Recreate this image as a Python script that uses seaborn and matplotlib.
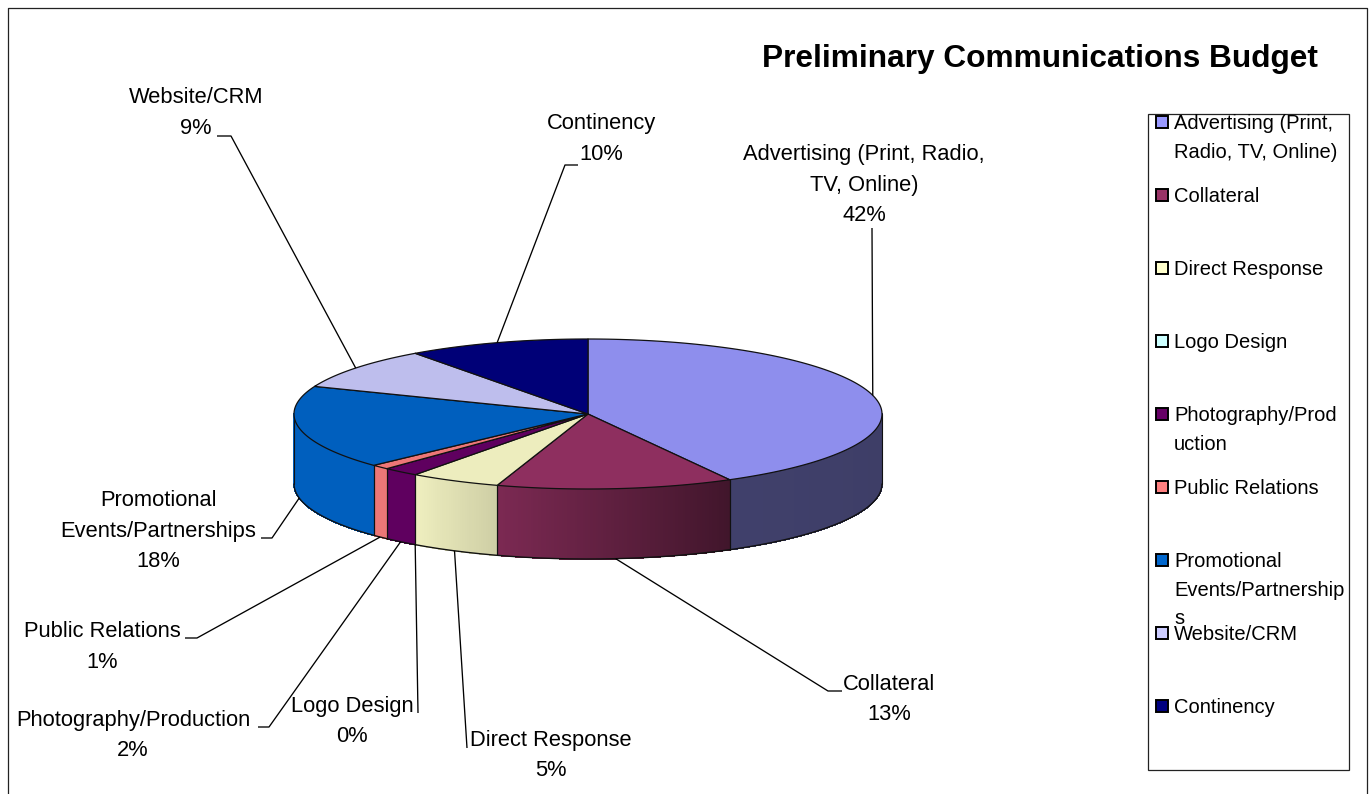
import numpy as np
import matplotlib
matplotlib.use("Agg")
import matplotlib.pyplot as plt
from matplotlib.patches import Polygon, Rectangle
import seaborn as sns

# Budget shares, in percent
categories = ["Advertising (Print, Radio, TV, Online)", "Collateral", "Direct Response",
              "Logo Design", "Photography/Production", "Public Relations",
              "Promotional Events/Partnerships", "Website/CRM", "Continency"]
shares = [42, 13, 5, 0, 2, 1, 18, 9, 10]
base_colors = ["#9999FF", "#993366", "#FFFFCC", "#CCFFFF", "#660066",
               "#FF8080", "#0066CC", "#CCCCFF", "#000080"]

callout_lines = [["Advertising (Print, Radio,", "TV, Online)"], ["Collateral"], ["Direct Response"],
                 ["Logo Design"], ["Photography/Production"], ["Public Relations"],
                 ["Promotional", "Events/Partnerships"], ["Website/CRM"], ["Continency"]]
legend_lines = [["Advertising (Print,", "Radio, TV, Online)"], ["Collateral"], ["Direct Response"],
                ["Logo Design"], ["Photography/Prod", "uction"], ["Public Relations"],
                ["Promotional", "Events/Partnership", "s"], ["Website/CRM"], ["Continency"]]

# Pie geometry (pixels)
CX, CY, RX, RY, DEPTH = 588, 414, 294, 75, 70

# Label centres and leader routes for each slice
label_xy = [(864, 153), (889, 683), (551, 739), (352, 705), (133, 719),
            (102, 630), (158, 499), (196, 96), (601, 122)]
leader_routes = [[(872, 228)], [(828, 691), (842, 691)], [(467, 748)], [(418, 713)],
                 [(269, 727), (258, 727)], [(197, 638), (185, 638)],
                 [(272, 538), (261, 538)], [(231, 136), (217, 136)], [(565, 165), (578, 165)]]

sns.set_theme(style="white")
plt.rcParams["font.family"] = ["Liberation Sans", "DejaVu Sans"]

LABEL_FS = 15.75
LEGEND_FS = 14.5
TITLE_FS = 22.8

fig = plt.figure(figsize=(13.72, 7.94), dpi=100)
ax = fig.add_axes([0, 0, 1, 1])
ax.set_xlim(0, 1372)
ax.set_ylim(794, 0)
ax.axis("off")


def rim(t_deg, drop=0.0):
    t = np.radians(t_deg)
    return CX + RX * np.cos(t), CY + RY * np.sin(t) + drop


def side_shade(t_deg):
    return np.interp(t_deg, [0, 61, 107, 125, 180], [0.40, 0.42, 0.80, 0.93, 0.93])


# Outer chart frame
ax.plot([8, 8, 1367, 1367], [800, 8, 8, 800], color="#222222", lw=0.9, zorder=1)

# Slice angles run clockwise from twelve o'clock
fractions = np.asarray(shares, dtype=float) / sum(shares)
edges = -90 + 360 * np.concatenate([[0], np.cumsum(fractions)])

# Side wall, shaded strip by strip
for i, col in enumerate(base_colors):
    lo, hi = max(edges[i], 0), min(edges[i + 1], 180)
    if hi <= lo:
        continue
    rgb = np.array(matplotlib.colors.to_rgb(col))
    steps = np.linspace(lo, hi, max(int(hi - lo) * 2, 2) + 1)
    for a, b in zip(steps[:-1], steps[1:]):
        xa, ya = rim(a)
        xb, yb = rim(b)
        c = rgb * side_shade((a + b) / 2)
        ax.add_patch(Polygon([(xa, ya), (xb, yb), (xb, yb + DEPTH), (xa, ya + DEPTH)],
                             closed=True, facecolor=c, edgecolor=c, lw=0.5,
                             antialiased=False, zorder=3))
    for t in (lo, hi):
        x, y = rim(t)
        ax.plot([x, x], [y, y + DEPTH], color="#111111", lw=0.8, zorder=4)

# Lower rim of the wall
tt = np.linspace(0, 180, 240)
bx, by = rim(tt, DEPTH)
ax.plot(bx, by, color="#111111", lw=1.0, zorder=4)

# Top face
for i, col in enumerate(base_colors):
    if shares[i] == 0:
        continue
    arc = np.linspace(edges[i], edges[i + 1], 120)
    pts = np.vstack([[CX, CY], np.column_stack(rim(arc))])
    ax.add_patch(Polygon(pts, closed=True, facecolor=np.array(matplotlib.colors.to_rgb(col)) * 0.93,
                         edgecolor="#111111", lw=0.9, joinstyle="round", zorder=5))


def stacked_text(x, y, lines, size, spacing, **kw):
    for k, line in enumerate(lines):
        ax.text(x, y + 1.5 + k * spacing, line, fontsize=size, color="black",
                va="center", zorder=7, **kw)


# Leader lines and slice labels
for i, name in enumerate(categories):
    mid = (edges[i] + edges[i + 1]) / 2
    start = rim(mid, DEPTH if 0 < mid < 180 else 0)
    route = [start] + leader_routes[i]
    ax.plot(*zip(*route), color="black", lw=0.95, zorder=6, solid_capstyle="butt")
    lx, ly = label_xy[i]
    stacked_text(lx, ly, callout_lines[i] + [f"{shares[i]}%"], LABEL_FS, 30.5, ha="center")

ax.text(1040, 59, "Preliminary Communications Budget", fontsize=TITLE_FS, fontweight="bold",
        color="black", ha="center", va="center", zorder=7)

# Legend panel
ax.add_patch(Rectangle((1148, 114), 201, 656, facecolor="white", edgecolor="#222222", lw=0.9, zorder=2))
for i, col in enumerate(base_colors):
    y = 122 + 73 * i
    ax.add_patch(Rectangle((1156, y - 6), 12, 12, facecolor=col, edgecolor="black", lw=1.4, zorder=6))
    stacked_text(1174, y, legend_lines[i], LEGEND_FS, 28.5, ha="left")

fig.savefig("out.png", dpi=100, facecolor="white")
